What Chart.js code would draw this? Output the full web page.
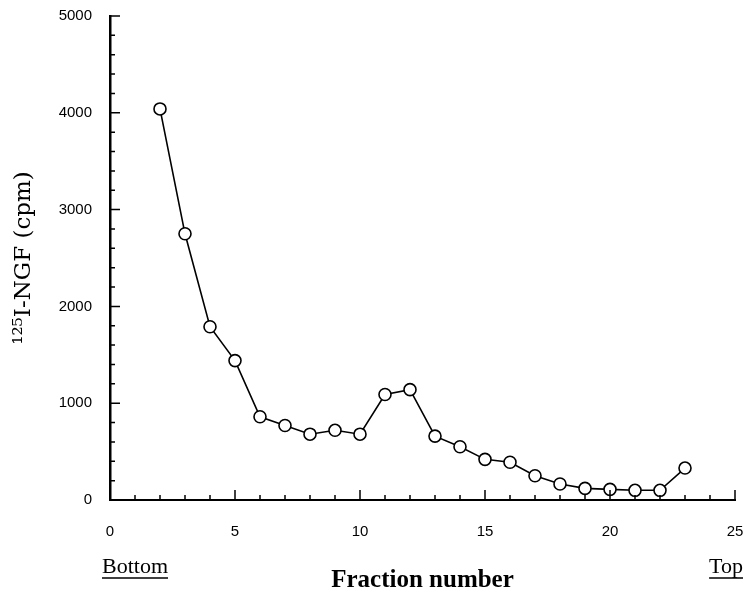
<!DOCTYPE html>
<html>
<head>
<meta charset="utf-8">
<script src="https://cdn.jsdelivr.net/npm/chart.js@4.4.1/dist/chart.umd.min.js"></script>
<style>
  html, body { margin: 0; padding: 0; background: #fff; }
  #wrap { width: 744px; height: 598px; }
</style>
</head>
<body>
<div id="wrap"><canvas id="chart" width="744" height="598"></canvas></div>
<script>
// fraction numbers along the gradient (bottom -> top)
const fractions = [2, 3, 4, 5, 6, 7, 8, 9, 10, 11, 12, 13, 14, 15, 16, 17, 18, 19, 20, 21, 22, 23];
// 125I-NGF counts per fraction
const cpm = [4040, 2750, 1790, 1440, 860, 770, 680, 720, 680, 1090, 1140, 660, 550, 420, 390, 250, 165, 120, 110, 100, 100, 330];
const xTicks = [0, 5, 10, 15, 20, 25];
const yTicks = [0, 1000, 2000, 3000, 4000, 5000];

const points = fractions.map((f, i) => ({ x: f, y: cpm[i] }));

// ticks pointing into the plot, long ones on the labelled values
const innerTicks = {
  id: 'innerTicks',
  afterDraw(chart) {
    const ctx = chart.ctx;
    const xs = chart.scales.x, ys = chart.scales.y;
    const area = chart.chartArea;
    ctx.save();
    ctx.strokeStyle = '#000';
    ctx.lineWidth = 1.5;
    ctx.beginPath();
    for (let v = 0; v <= 5000; v += 200) {
      const py = ys.getPixelForValue(v);
      const len = yTicks.includes(v) ? 10 : 5;
      ctx.moveTo(area.left, py);
      ctx.lineTo(area.left + len, py);
    }
    for (let v = 0; v <= 25; v += 1) {
      const px = xs.getPixelForValue(v);
      const len = xTicks.includes(v) ? 10 : 5;
      ctx.moveTo(px, area.bottom);
      ctx.lineTo(px, area.bottom - len);
    }
    ctx.stroke();

    // Bottom / Top labels under the axis
    ctx.fillStyle = '#000';
    ctx.font = '22px "Liberation Serif"';
    ctx.textBaseline = 'alphabetic';
    ctx.textAlign = 'left';
    ctx.fillText('Bottom', 102, 573);
    let w = ctx.measureText('Bottom').width;
    ctx.lineWidth = 1.5;
    ctx.beginPath();
    ctx.moveTo(102, 578); ctx.lineTo(102 + w, 578);
    ctx.textAlign = 'right';
    ctx.fillText('Top', 743, 573);
    w = ctx.measureText('Top').width;
    ctx.moveTo(743 - w, 578); ctx.lineTo(743, 578);
    ctx.stroke();
    ctx.restore();
  }
};

new Chart(document.getElementById('chart'), {
  type: 'line',
  data: {
    datasets: [{
      data: points,
      borderColor: '#000',
      borderWidth: 1.6,
      pointStyle: 'circle',
      pointRadius: 6,
      pointBorderWidth: 1.6,
      pointBackgroundColor: '#fff',
      pointBorderColor: '#000',
      tension: 0,
      clip: false
    }]
  },
  options: {
    responsive: false,
    animation: false,
    layout: { padding: { top: 16, right: 9, bottom: 0, left: 0 } },
    plugins: { legend: { display: false }, tooltip: { enabled: false } },
    scales: {
      x: {
        type: 'linear',
        min: 0,
        max: 25,
        grid: { display: false, drawTicks: false },
        border: { display: true, color: '#000', width: 2 },
        ticks: {
          stepSize: 5,
          color: '#000',
          padding: 23,
          font: { family: '"Liberation Sans"', size: 15 },
          maxRotation: 0,
          callback: v => String(v)
        },
        title: {
          display: true,
          text: 'Fraction number',
          color: '#000',
          font: { family: '"Liberation Serif"', size: 25, weight: 'bold' },
          padding: { top: 0, bottom: 2 }
        },
        afterFit(scale) {
          scale.height = 98;
          scale.paddingLeft = 0;
          scale.paddingRight = 0;
        }
      },
      y: {
        min: 0,
        max: 5000,
        grid: { display: false, drawTicks: false },
        border: { display: true, color: '#000', width: 2.5 },
        ticks: {
          stepSize: 1000,
          color: '#000',
          padding: 18,
          font: { family: '"Liberation Sans"', size: 15 },
          callback: v => String(v)
        },
        title: {
          display: true,
          text: '\u00B9\u00B2\u2075I-NGF (cpm)',
          color: '#000',
          font: { family: '"DejaVu Serif"', size: 23 },
          padding: { top: 10, bottom: 0 }
        },
        afterFit(scale) {
          scale.width = 110;
          scale.paddingTop = 0;
          scale.paddingBottom = 0;
        }
      }
    }
  },
  plugins: [innerTicks]
});
</script>
</body>
</html>
